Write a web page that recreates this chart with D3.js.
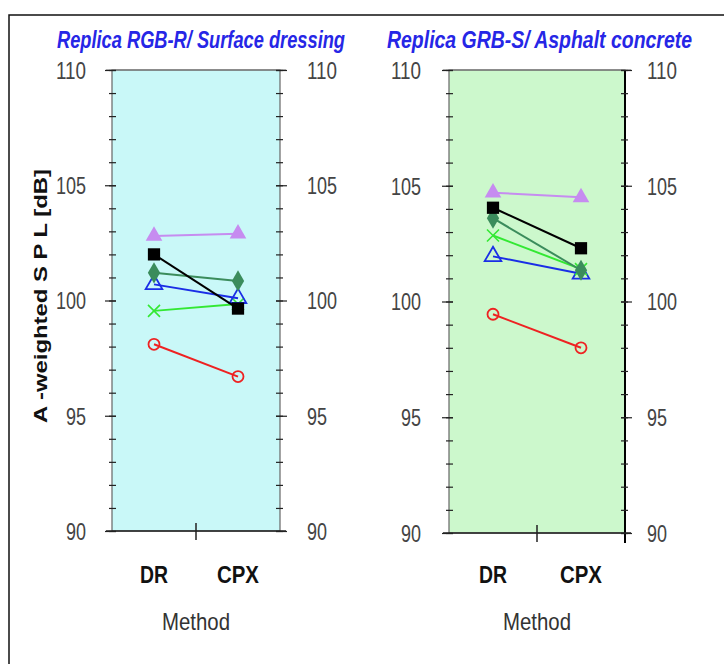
<!DOCTYPE html>
<meta charset="utf-8">
<style>
body { margin: 0; background: #fff; }
svg text { font-family: "Liberation Sans", Arial, sans-serif; }
.tick text { fill: #444; font-size: 23px; }
.axis path { display: none; }
.axis line { stroke: #222; stroke-width: 1.2px; }
</style>
<svg width="724" height="664"></svg>
<script src="https://cdn.jsdelivr.net/npm/d3@7"></script>
<script>

// data (A-weighted SPL in dB)
var methods = ["DR", "CPX"];
var yMajor = [90, 95, 100, 105, 110];

// panel 1: Replica RGB-R / Surface dressing
var rgbPurple = [102.8, 102.9];
var rgbBlack = [102.0, 99.65];
var rgbDiamond = [101.2, 100.85];
var rgbBlue = [100.7, 100.1];
var rgbGreen = [99.55, 99.85];
var rgbRed = [98.1, 96.7];

// panel 2: Replica GRB-S / Asphalt concrete
var grbPurple = [104.7, 104.5];
var grbBlack = [104.05, 102.3];
var grbDiamond = [103.6, 101.35];
var grbBlue = [101.95, 101.2];
var grbGreen = [102.85, 101.4];
var grbRed = [99.45, 98.0];

var styles = {
  red:     { color: "#ee2222", marker: "circle" },
  green:   { color: "#33e833", marker: "cross" },
  blue:    { color: "#1a2ee6", marker: "opentri" },
  diamond: { color: "#3b8c5c", marker: "diamond" },
  purple:  { color: "#c68cf0", marker: "triangle" },
  black:   { color: "#000000", marker: "square" }
};

var svg = d3.select("svg");

// outer frame
svg.append("rect")
  .attr("x", 9).attr("y", 15)
  .attr("width", 760).attr("height", 700)
  .attr("fill", "none").attr("stroke", "#111").attr("stroke-width", 1.5);

// squeeze a label to a narrow width (no condensed font available)
function narrow(sel, perChar) {
  sel.attr("textLength", function() { return this.textContent.length * perChar; })
    .attr("lengthAdjust", "spacingAndGlyphs");
}

function drawPanel(p) {
  var x = d3.scalePoint().domain(methods).range([p.left, p.right]).padding(0.5);
  var y = d3.scaleLinear().domain([90, 110]).range([p.bottom, p.top]);
  var g = svg.append("g");

  g.append("rect")
    .attr("x", p.left).attr("y", p.top)
    .attr("width", p.right - p.left).attr("height", p.bottom - p.top)
    .attr("fill", p.bg).attr("stroke", "#666").attr("stroke-width", 1.2);

  if (p.darkRight) {
    g.append("line")
      .attr("x1", p.right).attr("x2", p.right)
      .attr("y1", p.top).attr("y2", p.bottom + 10)
      .attr("stroke", "#000").attr("stroke-width", 2);
  }
  g.append("line")
    .attr("x1", p.left - 6).attr("x2", p.right + 6)
    .attr("y1", p.top).attr("y2", p.top)
    .attr("stroke", "#777").attr("stroke-width", 1.2);
  g.append("line")
    .attr("x1", p.left - 6).attr("x2", p.right + 6)
    .attr("y1", p.bottom).attr("y2", p.bottom)
    .attr("stroke", "#222").attr("stroke-width", 1.5);

  // minor ticks, 1 dB
  g.append("g").attr("class", "axis")
    .attr("transform", "translate(" + p.left + ",0)")
    .call(d3.axisLeft(y).tickValues(d3.range(90, 111)).tickSize(3).tickFormat(""))
    .selectAll("line").attr("x2", -3).attr("x1", 4);
  g.append("g").attr("class", "axis")
    .attr("transform", "translate(" + p.right + ",0)")
    .call(d3.axisRight(y).tickValues(d3.range(90, 111)).tickSize(3).tickFormat(""))
    .selectAll("line").attr("x2", 3).attr("x1", -4);

  // major ticks with labels on both sides
  var la = g.append("g").attr("class", "axis")
    .attr("transform", "translate(" + p.left + ",0)")
    .call(d3.axisLeft(y).tickValues(yMajor).tickSize(7).tickPadding(p.leftPad));
  la.selectAll("line").attr("x1", 4);
  var ra = g.append("g").attr("class", "axis")
    .attr("transform", "translate(" + p.right + ",0)")
    .call(d3.axisRight(y).tickValues(yMajor).tickSize(7).tickPadding(p.rightPad));
  ra.selectAll("line").attr("x1", -4);
  g.selectAll(".tick text").attr("dy", "0.36em").call(narrow, 10);

  // bottom middle tick
  g.append("line")
    .attr("x1", (p.left + p.right) / 2).attr("x2", (p.left + p.right) / 2)
    .attr("y1", p.bottom - 8).attr("y2", p.bottom + 9)
    .attr("stroke", "#222").attr("stroke-width", 1.5);

  // title (stretched vertically a little, the original face is condensed)
  g.append("text")
    .attr("transform", "translate(" + p.titleX + ",48) scale(1,1.15)")
    .attr("textLength", p.titleLen).attr("lengthAdjust", "spacingAndGlyphs")
    .attr("fill", "#2626e6").attr("font-size", 20).attr("font-style", "italic")
    .attr("font-weight", "bold")
    .text(p.title);

  // category labels
  g.selectAll(".cat").data(methods).enter().append("text")
    .attr("x", function(d) { return x(d); })
    .attr("y", 583)
    .attr("text-anchor", "middle")
    .attr("font-weight", "bold").attr("font-size", 24)
    .attr("fill", "#111")
    .text(function(d) { return d; })
    .call(narrow, 14);

  g.append("text")
    .attr("x", (p.left + p.right) / 2).attr("y", 630)
    .attr("text-anchor", "middle").attr("font-size", 24).attr("fill", "#333")
    .attr("textLength", 68).attr("lengthAdjust", "spacingAndGlyphs")
    .text("Method");

  var line = d3.line()
    .x(function(d, i) { return x(methods[i]); })
    .y(function(d) { return y(d); });

  p.series.forEach(function(s) {
    var st = styles[s.key];
    g.append("path").datum(s.values)
      .attr("d", line).attr("fill", "none")
      .attr("stroke", st.color).attr("stroke-width", 2);

    s.values.forEach(function(v, i) {
      var cx = x(methods[i]), cy = y(v);
      var m = g.append("g").attr("transform", "translate(" + cx + "," + cy + ")");
      if (st.marker === "circle") {
        m.append("circle").attr("r", 5.5).attr("fill", "none")
          .attr("stroke", st.color).attr("stroke-width", 1.8);
      } else if (st.marker === "cross") {
        m.append("path").attr("d", "M-6,-6L6,6M-6,6L6,-6")
          .attr("stroke", st.color).attr("stroke-width", 1.6);
      } else if (st.marker === "opentri") {
        m.append("path").attr("d", d3.symbol(d3.symbolTriangle, 120)())
          .attr("fill", "none").attr("stroke", st.color).attr("stroke-width", 1.8);
      } else if (st.marker === "diamond") {
        m.append("path").attr("d", d3.symbol(d3.symbolDiamond, 130)())
          .attr("fill", st.color);
      } else if (st.marker === "triangle") {
        m.append("path").attr("d", d3.symbol(d3.symbolTriangle, 120)())
          .attr("fill", st.color);
      } else {
        m.append("path").attr("d", d3.symbol(d3.symbolSquare, 150)())
          .attr("fill", st.color);
      }
    });
  });
}

drawPanel({
  left: 112, right: 280, top: 70, bottom: 531, bg: "#c9f8f8", leftPad: 19, rightPad: 20,
  title: "Replica RGB-R/ Surface dressing", titleX: 57, titleLen: 288,
  series: [
    { key: "red", values: rgbRed },
    { key: "green", values: rgbGreen },
    { key: "blue", values: rgbBlue },
    { key: "diamond", values: rgbDiamond },
    { key: "purple", values: rgbPurple },
    { key: "black", values: rgbBlack }
  ]
});

drawPanel({
  left: 449, right: 625, top: 70, bottom: 533, bg: "#ccf8cc", leftPad: 21, rightPad: 15, darkRight: true,
  title: "Replica GRB-S/ Asphalt concrete", titleX: 387, titleLen: 305,
  series: [
    { key: "red", values: grbRed },
    { key: "blue", values: grbBlue },
    { key: "green", values: grbGreen },
    { key: "diamond", values: grbDiamond },
    { key: "purple", values: grbPurple },
    { key: "black", values: grbBlack }
  ]
});

// shared y axis title
svg.append("text")
  .attr("transform", "translate(47,296) rotate(-90)")
  .attr("text-anchor", "middle")
  .attr("font-weight", "bold").attr("font-size", 19)
  .attr("textLength", 254).attr("lengthAdjust", "spacingAndGlyphs")
  .attr("fill", "#111")
  .text("A -weighted S P L [dB]");

</script>
